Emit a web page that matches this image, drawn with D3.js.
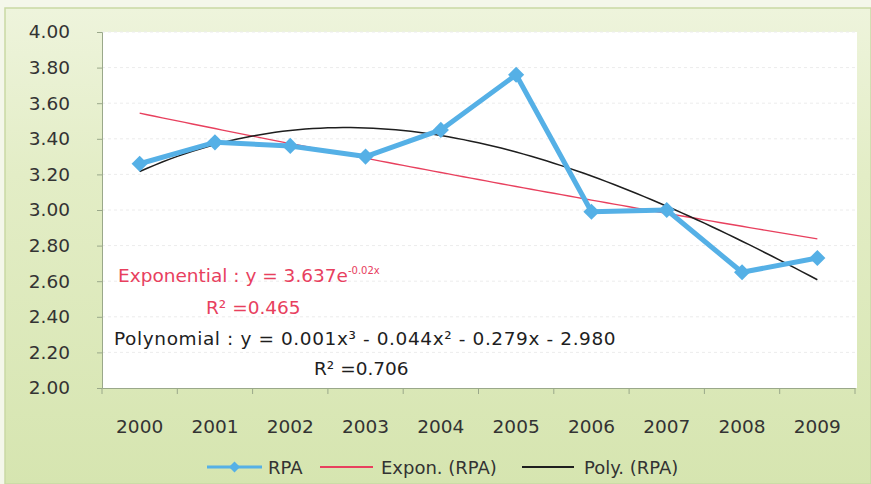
<!DOCTYPE html>
<html><head><meta charset="utf-8">
<script src="https://cdn.jsdelivr.net/npm/d3@7"></script>
<style>body{margin:0;background:#fff}svg{display:block}text{font-family:"DejaVu Sans",Verdana,sans-serif}</style>
</head><body><svg id="c" width="871" height="484"></svg>
<script>
const years = ["2000","2001","2002","2003","2004","2005","2006","2007","2008","2009"];
const rpa = [3.26, 3.38, 3.36, 3.30, 3.45, 3.76, 2.99, 3.00, 2.65, 2.73];
const yTicks = [2.00,2.20,2.40,2.60,2.80,3.00,3.20,3.40,3.60,3.80,4.00];
const legendLabels = ["RPA","Expon. (RPA)","Poly. (RPA)"];
const colors = {rpa:"#55b0e6", exp:"#e8405e", poly:"#1e1e1e"};

const svg = d3.select("#c");
const W=871,H=484;
const defs = svg.append("defs");
const g = defs.append("linearGradient").attr("id","bg").attr("x1",0).attr("y1",0).attr("x2",0).attr("y2",1);
g.append("stop").attr("offset","0").attr("stop-color","#eef4dc");
g.append("stop").attr("offset","0.35").attr("stop-color","#e3edc6");
g.append("stop").attr("offset","1").attr("stop-color","#d6e5b0");
svg.append("rect").attr("x",0).attr("y",0).attr("width",W).attr("height",H).attr("fill","#f4f7ea");
svg.append("rect").attr("x",5).attr("y",8).attr("width",W-5).attr("height",H-8).attr("fill","url(#bg)").attr("stroke","#c9d9a4").attr("stroke-width",1.5);

const L=102,R=855,T=32,B=388;
svg.append("rect").attr("x",L).attr("y",T).attr("width",R-L+2).attr("height",B-T).attr("fill","#fff");

const x = d3.scaleBand().domain(years).range([L,R]);
const xc = d => x(d)+x.bandwidth()/2;
const xn = d3.scaleLinear().domain([1,10]).range([xc(years[0]), xc(years[9])]);
const y = d3.scaleLinear().domain([2,4]).range([B,T]);

// gridlines
svg.append("g").selectAll("line").data(yTicks.slice(1)).join("line")
  .attr("x1",L).attr("x2",R).attr("y1",d=>y(d)).attr("y2",d=>y(d))
  .attr("stroke","#ececec").attr("stroke-width",1).attr("stroke-dasharray","3,3");

// axes
const ya = svg.append("g").attr("transform",`translate(${L},0)`)
  .call(d3.axisLeft(y).tickValues(yTicks).tickFormat(d3.format(".2f")).tickSize(5).tickPadding(27));
ya.select(".domain").attr("stroke","#9aa88a");
ya.selectAll(".tick line").attr("stroke","#9aa88a");
ya.selectAll("text").attr("font-size",18.5).attr("fill","#333");

const xa = svg.append("g").attr("transform",`translate(0,${B})`)
  .call(d3.axisBottom(x).tickSize(0).tickPadding(32));
xa.select(".domain").attr("stroke","#9aa88a");
xa.selectAll("text").attr("font-size",18.5).attr("fill","#333");
svg.append("g").selectAll("line").data(years.concat(["end"])).join("line")
  .attr("x1",(d,i)=>L+i*x.bandwidth()).attr("x2",(d,i)=>L+i*x.bandwidth())
  .attr("y1",B).attr("y2",B+6).attr("stroke","#9aa88a");

// fits computed from data
const xs = rpa.map((_,i)=>i+1);
const mx = d3.mean(xs), ml = d3.mean(rpa.map(Math.log));
const b = d3.sum(xs.map((xi,i)=>(xi-mx)*(Math.log(rpa[i])-ml)))/d3.sum(xs.map(xi=>(xi-mx)**2));
const a = Math.exp(ml - b*mx);
function solve(A,v){const m=A.length;A=A.map((r,i)=>r.concat([v[i]]));
 for(let i=0;i<m;i++){let p=i;for(let k=i+1;k<m;k++)if(Math.abs(A[k][i])>Math.abs(A[p][i]))p=k;[A[i],A[p]]=[A[p],A[i]];
  for(let k=i+1;k<m;k++){const f=A[k][i]/A[i][i];for(let j=i;j<=m;j++)A[k][j]-=f*A[i][j];}}
 const s=new Array(m).fill(0);for(let i=m-1;i>=0;i--){let t=A[i][m];for(let j=i+1;j<m;j++)t-=A[i][j]*s[j];s[i]=t/A[i][i];}return s;}
const M=[],V=[];
for(let r=0;r<4;r++){M.push([]);for(let c=0;c<4;c++)M[r].push(d3.sum(xs.map(xi=>xi**(r+c))));V.push(d3.sum(xs.map((xi,i)=>xi**r*rpa[i])));}
const co = solve(M,V);
const samples = d3.range(1,10.001,0.1);
const line = d3.line().x(d=>xn(d[0])).y(d=>y(d[1]));
svg.append("path").attr("d",line(samples.map(t=>[t,a*Math.exp(b*t)]))).attr("fill","none").attr("stroke",colors.exp).attr("stroke-width",1.4);
svg.append("path").attr("d",line(samples.map(t=>[t,co[0]+co[1]*t+co[2]*t*t+co[3]*t*t*t]))).attr("fill","none").attr("stroke",colors.poly).attr("stroke-width",1.5);

// data series
const dl = d3.line().x((d,i)=>xc(years[i])).y(d=>y(d));
svg.append("path").attr("d",dl(rpa)).attr("fill","none").attr("stroke",colors.rpa).attr("stroke-width",5).attr("stroke-linejoin","round");
svg.append("g").selectAll("path").data(rpa).join("path")
  .attr("transform",(d,i)=>`translate(${xc(years[i])},${y(d)}) rotate(45)`)
  .attr("d",d3.symbol().type(d3.symbolSquare).size(130)).attr("fill",colors.rpa);

// equations
const eq = svg.append("g").attr("font-size",18.5);
const e1 = eq.append("text").attr("x",118).attr("y",282).attr("fill","#e8405e");
e1.append("tspan").text("Exponential : y = 3.637e");
e1.append("tspan").attr("dy",-8).attr("font-size",10).text("-0.02x");
eq.append("text").attr("x",206).attr("y",314).attr("fill","#e8405e").text("R² =0.465");
eq.append("text").attr("x",114).attr("y",345).attr("fill","#1e1e1e").attr("letter-spacing",0.6).text("Polynomial : y = 0.001x³ - 0.044x² - 0.279x - 2.980");
eq.append("text").attr("x",314).attr("y",375).attr("fill","#1e1e1e").text("R² =0.706");

// legend
const lg = svg.append("g").attr("font-size",18).attr("fill","#333");
const items = [{x1:207,x2:262,tx:268,c:colors.rpa,w:3,m:true},{x1:320,x2:373,tx:381,c:colors.exp,w:2,m:false},{x1:522,x2:574,tx:584,c:colors.poly,w:2,m:false}];
items.forEach((it,i)=>{
  lg.append("line").attr("x1",it.x1).attr("x2",it.x2).attr("y1",467).attr("y2",467).attr("stroke",it.c).attr("stroke-width",it.w);
  if(it.m) lg.append("path").attr("transform",`translate(${(it.x1+it.x2)/2},467) rotate(45)`).attr("d",d3.symbol().type(d3.symbolSquare).size(60)).attr("fill",it.c);
  lg.append("text").attr("x",it.tx).attr("y",474).text(legendLabels[i]);
});
</script></body></html>
